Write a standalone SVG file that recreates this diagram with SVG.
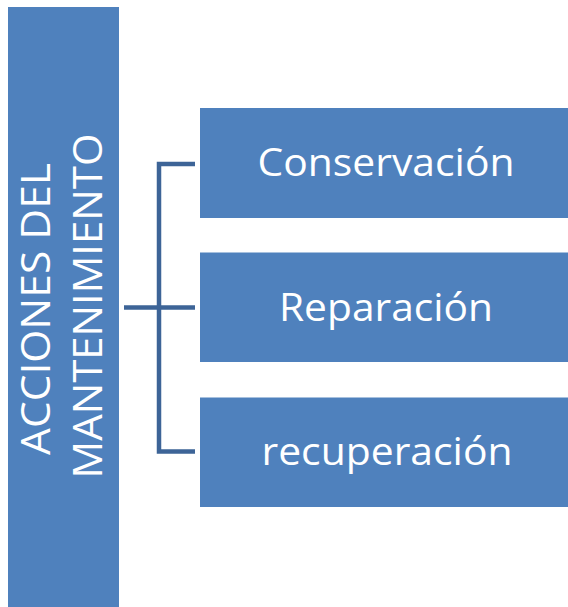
<svg xmlns="http://www.w3.org/2000/svg" width="568" height="607" viewBox="0 0 568 607">
<style>
.box{fill:#4F81BD;}
.lbl{font-family:"Open Sans","Liberation Sans",sans-serif;fill:#FFFFFF;font-size:38px;text-anchor:middle;}
.vlbl{font-family:"Open Sans","Liberation Sans",sans-serif;fill:#FFFFFF;font-size:40px;text-anchor:middle;}
.conn{fill:none;stroke:#3D6497;stroke-width:4.5;stroke-linejoin:miter;stroke-linecap:butt;}
</style>
<rect width="568" height="607" fill="#FFFFFF"/>
<g id="connectors">
<path class="conn" d="M124,307.5 H195"/>
<path class="conn" d="M195,164 H159 V451.5 H195"/>
</g>
<g id="root">
<rect class="box" x="8" y="7" width="111" height="600"/>
<text class="vlbl" transform="translate(50,309) rotate(-90)" x="0" y="0" textLength="292" lengthAdjust="spacingAndGlyphs">ACCIONES DEL</text>
<text class="vlbl" transform="translate(101.5,306) rotate(-90)" x="0" y="0" textLength="345" lengthAdjust="spacingAndGlyphs">MANTENIMIENTO</text>
</g>
<g id="conservacion">
<rect class="box" x="200" y="108" width="368" height="110"/>
<text class="lbl" x="386" y="176" textLength="257" lengthAdjust="spacingAndGlyphs">Conservación</text>
</g>
<g id="reparacion">
<rect class="box" x="200" y="252.5" width="368" height="109.5"/>
<text class="lbl" x="386" y="320.5" textLength="214" lengthAdjust="spacingAndGlyphs">Reparación</text>
</g>
<g id="recuperacion">
<rect class="box" x="200" y="397.5" width="368" height="109.5"/>
<text class="lbl" x="387" y="465" textLength="251" lengthAdjust="spacingAndGlyphs">recuperación</text>
</g>
</svg>
